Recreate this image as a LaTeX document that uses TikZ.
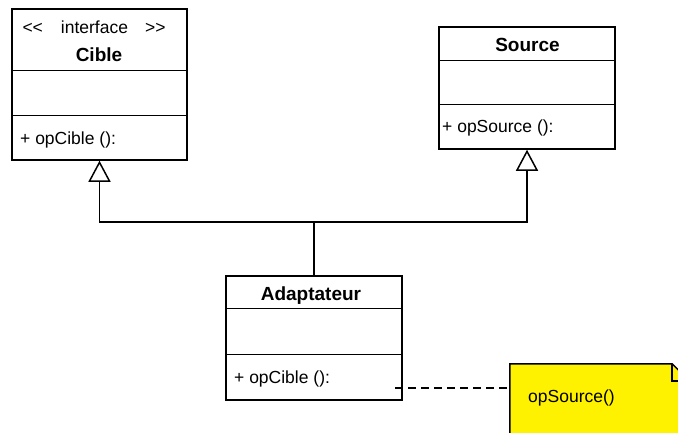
\documentclass[tikz,border=0pt]{standalone}
\usepackage{fontspec}
\setmainfont{Liberation Sans}
\usetikzlibrary{arrows.meta,positioning}
\tikzset{
  classbox/.style={rectangle, draw, line width=1.5pt, fill=white, inner sep=0pt},
  divider/.style={line width=1.5pt},
  ttl/.style={font=\fontsize{19}{22}\selectfont\bfseries, inner sep=0pt},
  stereo/.style={font=\fontsize{17.5}{20}\selectfont, inner sep=0pt},
  lbl/.style={font=\fontsize{17.5}{20}\selectfont, inner sep=0pt, anchor=west},
  inherit/.style={-{Triangle[open, length=21pt, width=22pt]}, line width=1.5pt},
  dashlink/.style={line width=1.5pt, dash pattern=on 8pt off 5pt},
  notebox/.style={rectangle, inner sep=0pt, minimum width=179pt, minimum height=76pt},
  notefill/.style={draw, line width=1.5pt, fill=yellow}
}

\begin{document}
\begin{tikzpicture}[x=1pt, y=-1pt]
\useasboundingbox (0,0) rectangle (678,432);
\clip (0,0) rectangle (678,432);
% classes
\node[classbox, minimum width=175pt, minimum height=151pt] (cible) at (99.5,84.5) {};
\node[classbox, minimum width=176pt, minimum height=122pt] (source) at (527,88) {};
\node[classbox, minimum width=176pt, minimum height=124pt] (adapt) at (314,338) {};
\draw[divider] ([yshift=-62pt]cible.north west) -- ([yshift=-62pt]cible.north east);
\draw[divider] ([yshift=-107pt]cible.north west) -- ([yshift=-107pt]cible.north east);
\draw[divider] ([yshift=-34pt]source.north west) -- ([yshift=-34pt]source.north east);
\draw[divider] ([yshift=-78pt]source.north west) -- ([yshift=-78pt]source.north east);
\draw[divider] ([yshift=-33pt]adapt.north west) -- ([yshift=-33pt]adapt.north east);
\draw[divider] ([yshift=-79pt]adapt.north west) -- ([yshift=-79pt]adapt.north east);
\node[stereo] (cibleStereo) at (94,27) {\mbox{<}\mbox{<}\hspace{18pt}interface\hspace{17pt}\mbox{>}\mbox{>}};
\node[ttl] (cibleName) at (99,55) {Cible};
\node[lbl] (cibleOp) at (20,140) {+ opCible ():};
\node[ttl] (sourceName) at (527.5,45) {Source};
\node[lbl] (sourceOp) at (442,128) {+ opSource ():};
\node[ttl] (adaptName) at (311,296) {Adaptateur};
\node[lbl] (adaptOp) at (234,379) {+ opCible ():};
% note
\node[notebox] (note) at (599.5,402) {};
\draw[notefill] (note.north west) -- ([xshift=-17pt]note.north east)
  -- ([yshift=-17pt]note.north east) -- (note.south east) -- (note.south west) -- cycle;
\draw[divider] ([xshift=-17pt]note.north east) |- ([yshift=-17pt]note.north east);
\node[lbl] (noteText) at (528,398) {opSource()};
% links
\coordinate (join) at (314,222);
\coordinate (adaptLink) at (395,388);
\draw[divider] (adapt.north) -- (join);
\draw[inherit] (join) -| (cible.south);
\draw[inherit] (join) -| (source.south);
\draw[dashlink] (adaptLink) -- (adaptLink -| note.west);
\end{tikzpicture}
\end{document}
